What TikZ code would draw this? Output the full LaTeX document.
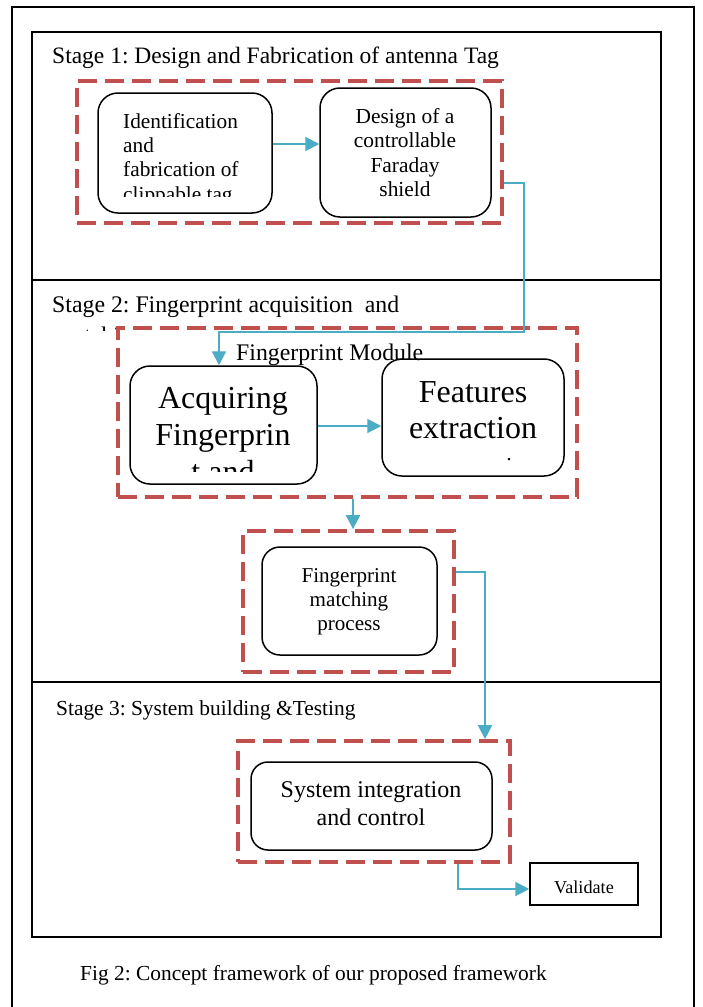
\documentclass[tikz,border=0pt]{standalone}
\usepackage{fontspec}
\setmainfont{Liberation Serif}
\usetikzlibrary{arrows.meta,calc}
\definecolor{accblue}{HTML}{4BACC6}
\definecolor{accred}{HTML}{C0504D}
\newcommand{\clines}[1]{\begin{tabular}[t]{@{}c@{}}#1\end{tabular}}
\newcommand{\llines}[1]{\begin{tabular}[t]{@{}l@{}}#1\end{tabular}}
\frenchspacing
\tikzset{
 procbox/.style={draw=black, line width=1.5pt, rounded corners=20pt, inner sep=0pt, fill=white},
 dashbox/.style={draw=accred, line width=3.8pt, dash pattern=on 19pt off 8pt, inner sep=0pt},
 conn/.style={draw=accblue, line width=2pt, -{Triangle[length=14pt,width=14pt]}},
 txt/.style={inner sep=0pt, anchor=base west},
 ctxt/.style={inner sep=0pt, anchor=base},
 frameline/.style={draw=black, line width=1.6pt},
}
\begin{document}
\begin{tikzpicture}[x=1pt,y=-1pt]
\useasboundingbox (0,0) rectangle (702,1007);
\fill[white] (0,0) rectangle (702,1007);
\draw[frameline] (12,1007) -- (12,7) -- (694,7) -- (694,1007);
\draw[frameline] (32,32) rectangle (661,937);
\draw[line width=1.2pt] (32,280) -- (661,280);
\draw[line width=1.2pt] (32,682) -- (661,682);

% Stage 1
\node[txt, font=\fontsize{23.5}{27}\selectfont] (s1) at (52,63) {Stage 1: Design and Fabrication of antenna Tag};
\node[dashbox, minimum width=425pt, minimum height=142pt] (d1) at (289.5,152) {};
\node[procbox, minimum width=174pt, minimum height=120pt] (A) at (185,153) {};
\node[procbox, minimum width=171pt, minimum height=129pt] (B) at (405.5,152.5) {};
\begin{scope}
\clip (99,94) rectangle (271,196);
\node[txt, font=\fontsize{21.3}{24.4}\selectfont] (tA) at (123,128) {\llines{Identification\\and\\fabrication of\\clippable tag}};
\end{scope}
\node[ctxt, font=\fontsize{21.4}{24.5}\selectfont] (tB) at (405,123) {\clines{Design of a\\controllable\\Faraday\\shield}};
\draw[conn] (A.east |- 0,144) -- (B.west |- 0,144);

% Stage 2
\node[txt, font=\fontsize{23.8}{27}\selectfont] (s2) at (52,312) {Stage 2: Fingerprint acquisition\ \ and};
\begin{scope}
\clip (40,290) rectangle (240,330);
\node[txt, font=\fontsize{23.8}{27}\selectfont] (s2b) at (55,343) {matching};
\end{scope}
\node[dashbox, minimum width=459pt, minimum height=169pt] (d2) at (347.5,412.5) {};
\node[procbox, minimum width=187pt, minimum height=118pt] (C) at (223.5,425) {};
\node[procbox, minimum width=182pt, minimum height=117pt] (D) at (473,417.5) {};
\node[txt, font=\fontsize{23.8}{27}\selectfont] (fm) at (236,360) {Fingerprint Module};
\begin{scope}
\clip (131,367) rectangle (316,471);
\node[ctxt, font=\fontsize{32}{37}\selectfont] (tC) at (223,408) {\clines{Acquiring\\Fingerprin\\t and}};
\end{scope}
\node[ctxt, font=\fontsize{32}{36}\selectfont] (tD) at (473,402) {\clines{Features\\extraction}};
\node[ctxt, font=\fontsize{20}{24}\selectfont] (dotD) at (509,460) {.};
\draw[conn] (C.east |- 0,426) -- (D.west |- 0,426);
\draw[conn] (d1.east |- 0,183) -- (524,183) -- (524,332) -- (219,332) -- (C.north -| 219,0);

\node[dashbox, minimum width=211pt, minimum height=141pt] (d3) at (348.5,601.5) {};
\node[procbox, rounded corners=18pt, minimum width=175pt, minimum height=108pt] (E) at (349.5,601) {};
\node[ctxt, font=\fontsize{21.1}{24}\selectfont] (tE) at (349,582) {\clines{Fingerprint\\matching\\process}};
\draw[conn] (d2.south -| 353,0) -- (d3.north -| 353,0);

% Stage 3
\node[txt, font=\fontsize{21.4}{25}\selectfont] (s3) at (56,715) {Stage 3: System building \&Testing};
\node[dashbox, minimum width=272pt, minimum height=121pt] (d4) at (374,801.5) {};
\node[procbox, rounded corners=17pt, minimum width=241pt, minimum height=88pt] (F) at (371.5,806) {};
\node[ctxt, font=\fontsize{24}{28}\selectfont] (tF) at (371,797) {\clines{System integration\\and control}};
\draw[conn] (d3.east |- 0,572) -- (485,572) -- (d4.north -| 485,0);

\node[draw, line width=1.5pt, minimum width=108pt, minimum height=42pt, inner sep=0pt] (V) at (584,884) {};
\node[ctxt, font=\fontsize{18.2}{22}\selectfont] (tV) at (584,893) {Validate};
\draw[conn] (d4.south -| 458,0) -- (458,889) -- (V.west |- 0,889);

\node[txt, font=\fontsize{21.4}{25}\selectfont] (cap) at (80,980) {Fig 2: Concept framework of our proposed framework};
\end{tikzpicture}
\end{document}
